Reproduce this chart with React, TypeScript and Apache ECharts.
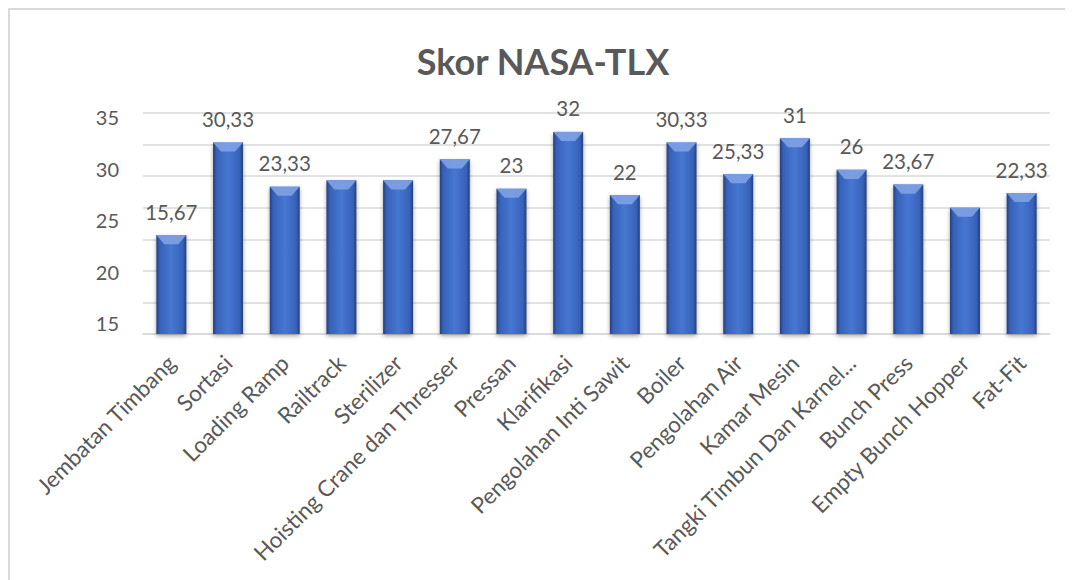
import React, { useEffect, useRef } from "react";
import * as echarts from "echarts";

const title = "Skor NASA-TLX";
const categories = [
  "Jembatan Timbang",
  "Sortasi",
  "Loading Ramp",
  "Railtrack",
  "Sterilizer",
  "Hoisting Crane dan Thresser",
  "Pressan",
  "Klarifikasi",
  "Pengolahan Inti Sawit",
  "Boiler",
  "Pengolahan Air",
  "Kamar Mesin",
  "Tangki Timbun Dan Karnel...",
  "Bunch Press",
  "Empty Bunch Hopper",
  "Fat-Fit",
];
const scores = [15.67, 30.33, 23.33, 24.33, 24.33, 27.67, 23, 32, 22, 30.33, 25.33, 31, 26, 23.67, 20, 22.33];
// labels hidden in the reference picture
const hiddenLabels = ["Railtrack", "Sterilizer", "Empty Bunch Hopper"];
const axisTickLabels = [15, 20, 25, 30, 35];

const FONT = "Lato, 'Noto Sans', sans-serif";
const GREY = "#595959";

export default function App() {
  const ref = useRef<HTMLDivElement>(null);
  useEffect(() => {
    if (!ref.current) return;
    const chart = echarts.init(ref.current, undefined, { renderer: "svg" });
    const fmt = (v: number) => String(Math.round(v * 100) / 100).replace(".", ",");
    const barData = scores.map((v, i) => ({
      value: v,
      label: { show: !hiddenLabels.includes(categories[i]) },
    }));
    chart.setOption({
      animation: false,
      textStyle: { fontFamily: FONT },
      title: {
        text: title,
        left: 530,
        top: 30,
        textAlign: "center",
        textStyle: { fontSize: 36, fontWeight: "bold", color: GREY, fontFamily: FONT },
      },
      graphic: [
        {
          type: "rect",
          shape: { x: 1, y: 1, width: 2000, height: 2000 },
          style: { fill: "none", stroke: "#d9d9d9", lineWidth: 2 },
          silent: true,
          z: -10,
        },
      ],
      grid: [
        { left: 135, right: 23, top: 105, bottom: 246 },
        { left: 135, right: 23, top: 109, bottom: 257 },
      ],
      xAxis: [
        {
          type: "category",
          gridIndex: 0,
          data: categories,
          axisLine: { show: true, lineStyle: { color: "#d9d9d9", width: 1.5 } },
          axisTick: { show: false },
          axisLabel: {
            rotate: 45,
            interval: 0,
            margin: 25,
            fontSize: 22.5,
            color: GREY,
            fontFamily: FONT,
          },
        },
        { type: "category", gridIndex: 1, show: false, data: categories },
      ],
      yAxis: [
        {
          type: "value",
          gridIndex: 0,
          min: 0,
          max: 35,
          interval: 5,
          axisLabel: { show: false },
          axisLine: { show: false },
          axisTick: { show: false },
          splitLine: { lineStyle: { color: "#d9d9d9", width: 1.5 } },
        },
        {
          type: "value",
          gridIndex: 1,
          min: axisTickLabels[0],
          max: axisTickLabels[axisTickLabels.length - 1],
          interval: 5,
          axisLine: { show: false },
          axisTick: { show: false },
          splitLine: { show: false },
          axisLabel: { fontSize: 20, color: GREY, margin: 24, fontFamily: FONT },
        },
      ],
      series: [
        {
          type: "bar",
          xAxisIndex: 0,
          yAxisIndex: 0,
          data: barData,
          barWidth: 30,
          barGap: "-100%",
          itemStyle: {
            color: new echarts.graphic.LinearGradient(0, 0, 1, 0, [
              { offset: 0, color: "#243f80" },
              { offset: 0.12, color: "#3862b8" },
              { offset: 0.5, color: "#4677d2" },
              { offset: 0.88, color: "#3862b8" },
              { offset: 1, color: "#243f80" },
            ]),
            shadowColor: "rgba(0,0,0,0.35)",
            shadowBlur: 4,
            shadowOffsetY: 2,
          },
          label: {
            show: true,
            position: "top",
            distance: 13,
            fontSize: 20.5,
            color: GREY,
            fontFamily: FONT,
            formatter: (p: any) => fmt(p.value),
          },
          z: 2,
        },
        {
          type: "pictorialBar",
          xAxisIndex: 0,
          yAxisIndex: 0,
          data: scores,
          barWidth: 30,
          barGap: "-100%",
          symbol: "path://M0,0 L30,0 L22,9 L8,9 Z",
          symbolSize: [30, 9],
          symbolPosition: "end",
          symbolOffset: [0, 0],
          itemStyle: { color: "#7fa2e4", opacity: 0.9 },
          silent: true,
          z: 3,
        },
      ],
    });
    return () => chart.dispose();
  }, []);
  return <div ref={ref} style={{ width: 1065, height: 572 }} />;
}
